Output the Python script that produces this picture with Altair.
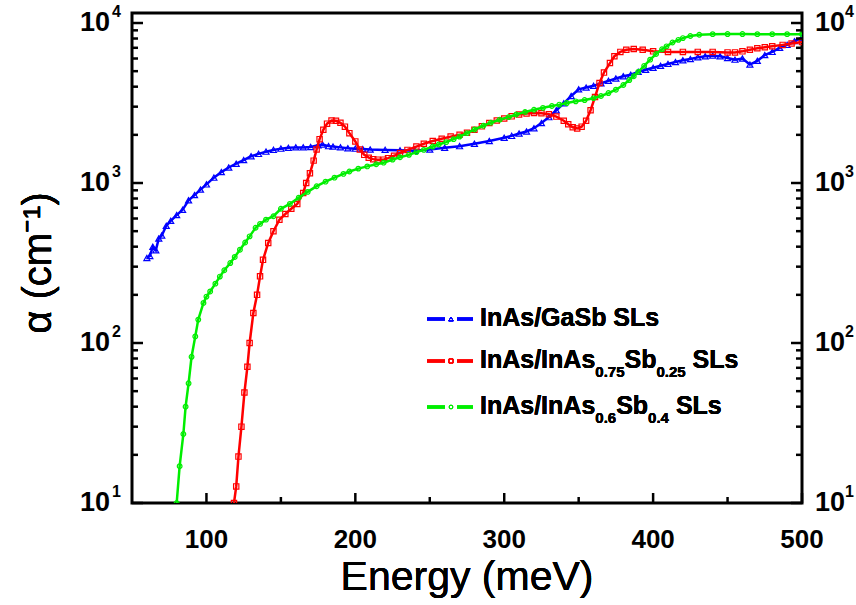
import altair as alt
import pandas as pd

W, H = 670, 490
FONT = "Liberation Sans"

# InAs/GaSb SLs
gasb_e = [60, 62, 64, 66, 68, 70, 73, 76, 80, 84, 88, 92, 96, 100, 105, 110, 115, 120, 125, 130,
          135, 140, 145, 150, 155, 160, 165, 170, 175, 178, 182, 185, 190, 195, 200, 205, 210, 220,
          230, 240, 250, 260, 270, 280, 290, 300, 305, 310, 315, 320, 325, 330, 335, 340, 345, 350,
          355, 360, 365, 370, 375, 380, 385, 390, 395, 400, 405, 410, 415, 420, 425, 430, 435, 440,
          445, 450, 455, 460, 465, 470, 475, 480, 485, 490, 495, 500]
gasb_a = [340, 350, 400, 380, 450, 470, 540, 580, 630, 680, 780, 840, 910, 980, 1080, 1170, 1250,
          1320, 1390, 1470, 1520, 1570, 1610, 1640, 1660, 1670, 1670, 1680, 1720, 1740, 1700, 1690,
          1670, 1650, 1640, 1630, 1620, 1610, 1600, 1590, 1620, 1660, 1700, 1760, 1830, 1920, 1970,
          2040, 2100, 2200, 2370, 2580, 2850, 3150, 3500, 3850, 3950, 4050, 4200, 4350, 4500, 4650,
          4750, 4950, 5100, 5250, 5400, 5550, 5700, 5850, 5950, 6100, 6200, 6250, 6200, 6050, 5900,
          6000, 5500, 5800, 6300, 6600, 7000, 7300, 7700, 8100]

# InAs/InAs0.75Sb0.25 SLs
sb25_e = [118.5, 120, 121.5, 123.5, 125.5, 127.5, 129, 131.5, 134, 136, 138, 141.5, 145, 149, 153,
          157, 161, 165, 167, 169.5, 172, 174, 176, 178.5, 181, 184, 187, 190, 193, 196, 200, 203,
          206, 209, 212, 215, 219, 222, 226, 230, 235, 241, 246, 252, 258, 264, 270, 275, 280, 285,
          290, 295, 300, 305, 310, 315, 320, 325, 330, 335, 340, 343, 346, 349, 352, 355, 358, 361,
          364, 367, 371, 374, 378, 382, 387, 393, 400, 410, 420, 430, 440, 450, 455, 460, 465, 470,
          475, 480, 487, 493, 500]
sb25_a = [10, 12.7, 19.5, 30, 49, 71, 100, 154, 200, 261, 331, 422, 500, 590, 640, 690, 740, 867,
          1000, 1150, 1380, 1620, 1880, 2150, 2350, 2460, 2450, 2380, 2250, 2050, 1820, 1620, 1500,
          1440, 1410, 1400, 1400, 1430, 1480, 1540, 1610, 1690, 1760, 1830, 1890, 1950, 2000, 2060,
          2150, 2260, 2370, 2460, 2530, 2610, 2680, 2720, 2740, 2730, 2690, 2600, 2450, 2330, 2230,
          2190, 2250, 2450, 2850, 3450, 4220, 4900, 5620, 6200, 6600, 6800, 6880, 6800, 6650, 6600,
          6600, 6600, 6600, 6550, 6550, 6650, 6800, 6950, 7050, 7150, 7300, 7450, 7600]

# InAs/InAs0.6Sb0.4 SLs
sb40_e = [80, 82, 84.5, 86, 88, 90, 92.5, 94.5, 98, 100, 102.5, 106, 109, 112, 116, 119, 122.5, 126,
          129, 133, 136, 140, 145, 150, 156, 162, 168, 174, 180, 186, 192, 196, 202, 208, 214, 219,
          225, 230, 236, 241, 246, 252, 256, 261, 266, 270, 275, 280, 286, 291, 297, 303, 308, 314,
          320, 326, 332, 337, 342, 348, 354, 360, 365, 370, 375, 380, 384, 387, 390, 394, 398, 402,
          406, 409, 413, 417, 420, 425, 431, 440, 450, 460, 470, 480, 490, 500]
sb40_a = [10, 17, 27, 40, 56, 82, 110, 140, 178, 195, 210, 235, 260, 285, 316, 345, 383, 425, 464,
          525, 555, 590, 620, 690, 740, 810, 880, 955, 1020, 1080, 1140, 1180, 1230, 1270, 1310, 1340,
          1400, 1450, 1500, 1560, 1610, 1690, 1740, 1800, 1880, 1950, 2050, 2160, 2280, 2380, 2490,
          2580, 2680, 2780, 2870, 2950, 3030, 3090, 3160, 3240, 3300, 3390, 3500, 3650, 3830, 4100,
          4400, 4650, 4950, 5400, 5900, 6400, 6850, 7150, 7550, 7850, 8050, 8300, 8450, 8520, 8530,
          8530, 8520, 8520, 8520, 8520]

x_major = [100, 200, 300, 400, 500]
x_minor = [150, 250, 350, 450]
y_major = [10, 100, 1000, 10000]
y_exp = ["1", "2", "3", "4"]
y_minor = [m * d for d in (10, 100, 1000) for m in range(2, 10)]

BLUE, RED, GREEN = "#0000ff", "#ff0000", "#00ee00"

x_sc = alt.Scale(domain=[50, 500], nice=False, zero=False)
y_sc = alt.Scale(type="log", domain=[10, 11550], nice=False)


def curve(e, a, color, shape, size):
    df = pd.DataFrame({"E": e, "alpha": a})
    base = alt.Chart(df).encode(
        x=alt.X("E:Q", scale=x_sc, axis=None),
        y=alt.Y("alpha:Q", scale=y_sc, axis=None),
    )
    line = base.mark_line(color=color, strokeWidth=2.5, clip=True)
    pts = base.mark_point(shape=shape, filled=False, color=color, size=size,
                          strokeWidth=1.2, opacity=1, clip=True)
    return line + pts


layers = [
    curve(gasb_e, gasb_a, BLUE, "triangle-up", 36),
    curve(sb25_e, sb25_a, RED, "square", 28),
    curve(sb40_e, sb40_a, GREEN, "circle", 22),
]

# tick marks pointing into the plot
xmaj = alt.Chart(pd.DataFrame({"v": x_major}))
xmin = alt.Chart(pd.DataFrame({"v": x_minor}))
layers.append(xmaj.mark_rule(color="black", strokeWidth=2.5).encode(
    x=alt.X("v:Q", scale=x_sc, axis=None), y=alt.value(H), y2=alt.value(H - 10)))
layers.append(xmin.mark_rule(color="black", strokeWidth=2.5).encode(
    x=alt.X("v:Q", scale=x_sc, axis=None), y=alt.value(H), y2=alt.value(H - 6)))

ymaj = alt.Chart(pd.DataFrame({"v": y_major, "exp": y_exp}))
ymin = alt.Chart(pd.DataFrame({"v": y_minor}))
for x0, x1_maj, x1_min in ((0, 11, 6), (W, W - 11, W - 6)):
    layers.append(ymaj.mark_rule(color="black", strokeWidth=2.5).encode(
        y=alt.Y("v:Q", scale=y_sc, axis=None), x=alt.value(x0), x2=alt.value(x1_maj)))
    layers.append(ymin.mark_rule(color="black", strokeWidth=2.5).encode(
        y=alt.Y("v:Q", scale=y_sc, axis=None), x=alt.value(x0), x2=alt.value(x1_min)))

# tick labels
layers.append(xmaj.mark_text(font=FONT, fontSize=26, fontWeight="bold", baseline="middle").encode(
    x=alt.X("v:Q", scale=x_sc, axis=None), y=alt.value(H + 37), text=alt.Text("v:Q")))
for xb, xe, al in ((-22, -20, "right"), (W + 13, W + 43, "left")):
    layers.append(ymaj.mark_text(font=FONT, fontSize=27, fontWeight="bold", baseline="middle",
                                 align=al).encode(
        y=alt.Y("v:Q", scale=y_sc, axis=None), x=alt.value(xb), text=alt.value("10")))
    layers.append(ymaj.mark_text(font=FONT, fontSize=16, fontWeight="bold", baseline="middle",
                                 align="left", dy=-11).encode(
        y=alt.Y("v:Q", scale=y_sc, axis=None), x=alt.value(xe), text="exp:N"))

# axis titles
layers.append(ymaj.mark_text(font=FONT, fontSize=41, baseline="middle").encode(
    x=alt.value(W / 2), y=alt.value(H + 75), text=alt.value("Energy (meV)")))
layers.append(ymaj.mark_text(font=FONT, fontSize=40, baseline="middle", angle=270).encode(
    x=alt.value(-93), y=alt.value(250), text=alt.value("α (cm⁻¹)")))

# legend
BW = {"I": 278, "n": 611, "A": 722, "s": 556, "/": 278, "G": 778, "a": 556, "S": 667, "b": 611,
      " ": 278, "L": 611, "0": 556, ".": 278, "7": 556, "5": 556, "2": 556, "6": 556, "4": 556}


def tw(txt, size):
    return sum(BW[c] for c in txt) * size / 1000


legend_rows = [
    (BLUE, "triangle-up", 30, 306, [("InAs/GaSb SLs", False)]),
    (RED, "square", 24, 348, [("InAs/InAs", False), ("0.75", True), ("Sb", False),
                              ("0.25", True), (" SLs", False)]),
    (GREEN, "circle", 18, 394, [("InAs/InAs", False), ("0.6", True), ("Sb", False),
                                ("0.4", True), (" SLs", False)]),
]
for color, shape, size, yc, parts in legend_rows:
    layers.append(ymaj.mark_rule(color=color, strokeWidth=3).encode(
        x=alt.value(295), x2=alt.value(313), y=alt.value(yc)))
    layers.append(ymaj.mark_rule(color=color, strokeWidth=3).encode(
        x=alt.value(325), x2=alt.value(341), y=alt.value(yc)))
    layers.append(ymaj.mark_point(shape=shape, filled=False, color=color, size=size * 0.7,
                                  strokeWidth=1, opacity=1).encode(
        x=alt.value(319), y=alt.value(yc)))
    xpos = 348
    for txt, sub in parts:
        fs = 15 if sub else 25
        lead = len(txt) - len(txt.lstrip(" "))
        xpos += tw(" " * lead, fs)
        word = txt.lstrip(" ")
        layers.append(ymaj.mark_text(font=FONT, fontSize=fs, fontWeight="bold", align="left",
                                     baseline="alphabetic").encode(
            x=alt.value(xpos), y=alt.value(yc + (16 if sub else 7)), text=alt.value(word)))
        xpos += tw(word, fs)

chart = alt.layer(*layers).properties(
    width=W, height=H,
    autosize=alt.AutoSizeParams(type="none"),
    padding={"left": 132, "top": 13, "right": 54, "bottom": 102},
    background="white",
).configure_view(stroke="black", strokeWidth=3)

chart.save("out.html", embed_options={"renderer": "svg", "actions": False})
